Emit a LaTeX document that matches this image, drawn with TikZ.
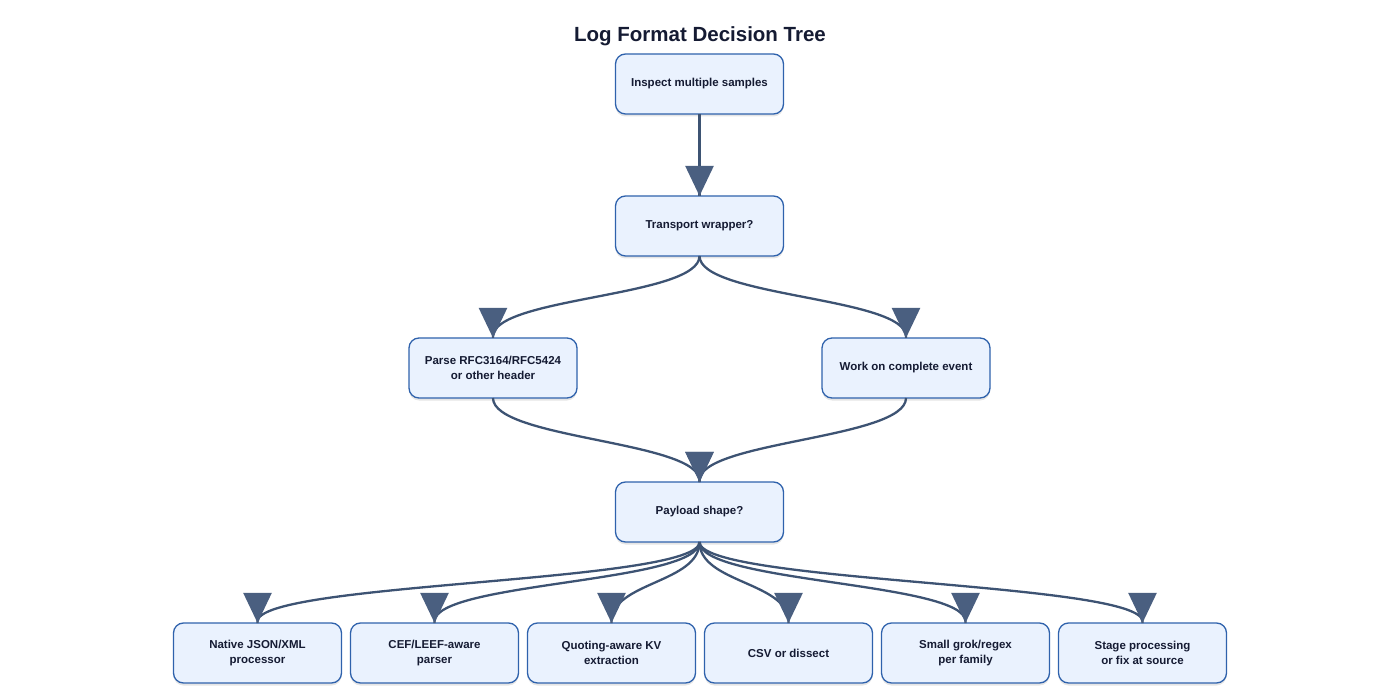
\documentclass[tikz,border=0pt]{standalone}
\usepackage{fontspec}
\setmainfont{Liberation Sans}
\usepackage{tikz}
\usetikzlibrary{arrows.meta,positioning,calc,shadows,decorations.markings}
\usepackage{xcolor}
\definecolor{BoxFill}{HTML}{EAF2FE}
\definecolor{BoxEdge}{HTML}{2F62AC}
\definecolor{InkNavy}{HTML}{151B33}
\definecolor{LineSlate}{HTML}{3D5373}
\definecolor{TipSlate}{HTML}{4A5F80}

\begin{document}
\begin{tikzpicture}[x=1pt,y=-1pt,node distance=82pt and 9pt,
    every node/.style={font=\bfseries\fontsize{11.5}{15.5}\selectfont,align=center,text=InkNavy},
    box/.style={draw=BoxEdge,line width=1.3pt,rounded corners=10pt,fill=BoxFill,minimum width=168pt,minimum height=60pt,inner sep=2pt,outer sep=0pt,
      drop shadow={shadow xshift=0pt,shadow yshift=-2.5pt,opacity=0.10,fill=black}},
    flow/.style={draw=LineSlate,line width=2.3pt,
      postaction={decorate,decoration={markings,mark=at position 0.9999 with {\arrow{Triangle[length=30pt,width=28pt,color=TipSlate]}}}},
      to path={.. controls ($(\tikztostart)+(0,-41pt)$) and ($(\tikztotarget)+(0,41pt)$) .. ($(\tikztotarget)+(0,1.5pt)$) -- (\tikztotarget)}}]
    \useasboundingbox (0,0) rectangle (1400,700);
    \node[font=\bfseries\fontsize{20.5}{24}\selectfont] (title) at (700,36) {Log Format Decision Tree};
    \node[box] (inspect) at (699.5,84) {Inspect multiple samples};
    \node[box,below=of inspect] (transport) {Transport wrapper?};
    \node[box,below=of transport,xshift=-206.5pt] (parse) {Parse RFC3164/RFC5424\\or other header};
    \node[box,below=of transport,xshift=206.5pt] (work) {Work on complete event};
    \node[box] (payload) at (699.5,512) {Payload shape?};
    % bottom row
    \node[box] (json) at (257.5,653) {Native JSON/XML\\processor};
    \node[box,right=of json] (cef) {CEF/LEEF-aware\\parser};
    \node[box,right=of cef] (kv) {Quoting-aware KV\\extraction};
    \node[box,right=of kv] (csv) {CSV or dissect};
    \node[box,right=of csv] (grok) {Small grok/regex\\per family};
    \node[box,right=of grok] (stage) {Stage processing\\or fix at source};
    \draw[flow] (inspect.south) -- (transport.north);
    \foreach \x/\y in {transport/parse,transport/work,parse/payload,work/payload}{\draw[flow] (\x.south) to (\y.north);}
    \foreach \y in {json,cef,kv,csv,grok,stage}{\draw[flow] (payload.south) to (\y.north);}
  \end{tikzpicture}
\end{document}
